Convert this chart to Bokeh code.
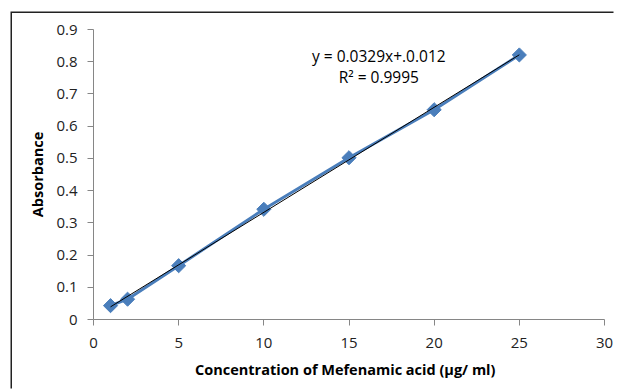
import numpy as np
from bokeh.plotting import figure
from bokeh.models import Label, Range1d, FixedTicker
from bokeh.embed import file_html
from bokeh.resources import INLINE

# data
conc = [1, 2, 5, 10, 15, 20, 25]
absorb = [0.043, 0.063, 0.167, 0.342, 0.502, 0.651, 0.821]
x_ticks = [0, 5, 10, 15, 20, 25, 30]
y_ticks = [0, 0.1, 0.2, 0.3, 0.4, 0.5, 0.6, 0.7, 0.8, 0.9]
eq_text = "y = 0.0329x+.0.012"
r2_text = "R\u00b2 = 0.9995"
x_title = "Concentration of Mefenamic  acid  (\u03bcg/ ml)"
y_title = "Absorbance"

FONT = "Open Sans"
BLUE = "#4A7EBB"
AXIS = "#868686"

p = figure(width=603, height=377, output_backend="svg", toolbar_location=None,
           x_range=Range1d(0, 30), y_range=Range1d(0, 0.9),
           min_border_left=81, min_border_right=11, min_border_top=16,
           min_border_bottom=71)
p.styles = {"margin-left": "11.5px", "margin-top": "12.5px",
            "box-shadow": "-1.5px -1.5px 0px 0px #222"}
p.outline_line_color = None
p.xgrid.visible = False
p.ygrid.visible = False

for ax in (p.xaxis[0], p.yaxis[0]):
    ax.axis_line_color = AXIS
    ax.major_tick_line_color = AXIS
    ax.minor_tick_line_color = None
    ax.major_tick_in = 0
    ax.major_tick_out = 6
    ax.major_label_text_font = FONT
    ax.major_label_text_font_size = "15px"
    ax.major_label_text_color = "#222222"

p.xaxis[0].ticker = FixedTicker(ticks=x_ticks)
p.yaxis[0].ticker = FixedTicker(ticks=y_ticks)
p.xaxis[0].major_label_standoff = 12
p.yaxis[0].major_label_standoff = 10
p.yaxis[0].axis_label = y_title
p.xaxis[0].axis_label = x_title
for ax in (p.xaxis[0], p.yaxis[0]):
    ax.axis_label_text_font = FONT
    ax.axis_label_text_font_style = "bold"
    ax.axis_label_text_font_size = "14.5px"
    ax.axis_label_text_color = "#000000"
p.yaxis[0].axis_label_standoff = 6
p.xaxis[0].axis_label_standoff = 9

# data series
p.line(conc, absorb, line_color=BLUE, line_width=3)
p.scatter(conc, absorb, marker="square", angle=np.pi / 4, size=10,
          fill_color=BLUE, line_color=BLUE)

# fitted trendline (least squares of the series)
fit = np.polyfit(conc, absorb, 1)
tx = np.array([conc[0], conc[-1]])
p.line(tx, np.polyval(fit, tx), line_color="#000000", line_width=1)

p.add_layout(Label(x=16.75, y=0.819, text=eq_text, text_align="center",
                   text_baseline="middle", text_font=FONT,
                   text_font_size="15.5px", text_color="#000000"))
p.add_layout(Label(x=16.75, y=0.754, text=r2_text, text_align="center",
                   text_baseline="middle", text_font=FONT,
                   text_font_size="15.5px", text_color="#000000"))

open("out.html", "w").write(file_html(p, INLINE))
